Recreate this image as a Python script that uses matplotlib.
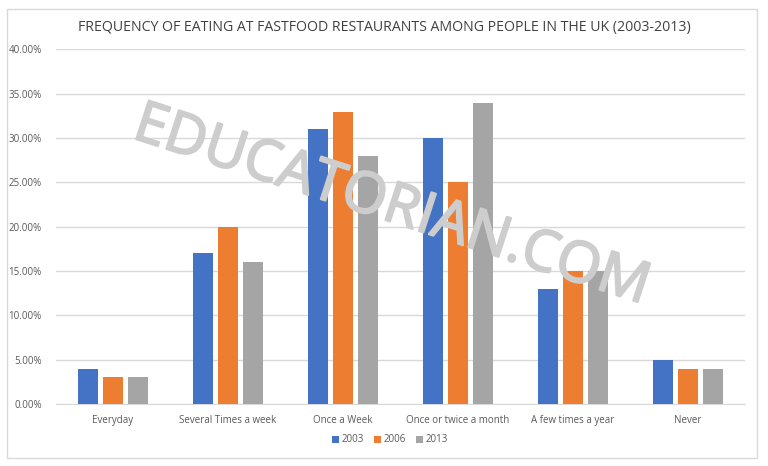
import matplotlib.pyplot as plt
import matplotlib.patheffects as pe
from matplotlib.patches import Rectangle
from matplotlib.ticker import FuncFormatter
import numpy as np

categories = ['Everyday', 'Several Times a week', 'Once a Week',
              'Once or twice a month', 'A few times a year', 'Never']
years = ['2003', '2006', '2013']
v2003 = [4, 17, 31, 30, 13, 5]
v2006 = [3, 20, 33, 25, 15, 4]
v2013 = [3, 16, 28, 34, 15, 4]
colors = ['#4472C4', '#ED7D31', '#A5A5A5']

plt.rcParams['font.family'] = ['Open Sans', 'DejaVu Sans']

fig = plt.figure(figsize=(7.68, 4.66), dpi=100)
fig.patches.append(Rectangle((7 / 768, 1 - 458 / 466), 750 / 768, 449 / 466,
                             transform=fig.transFigure, fill=False,
                             edgecolor='#D9D9D9', linewidth=1))

ax = fig.add_axes([0.0723, 0.1330, 0.8984, 0.7608])
x = np.arange(len(categories))
w = 0.17
step = 0.217
for i, (vals, c, yr) in enumerate(zip([v2003, v2006, v2013], colors, years)):
    ax.bar(x + (i - 1) * step, vals, width=w, color=c, label=yr, zorder=3)

ax.set_xlim(-0.5, len(categories) - 0.5)
ax.set_ylim(0, 40)
ax.set_yticks(np.arange(0, 41, 5))
ax.yaxis.set_major_formatter(FuncFormatter(lambda v, p: f'{v:.2f}%'))
ax.grid(axis='y', color='#D9D9D9', linewidth=1, zorder=0)
for s in ['top', 'right', 'left']:
    ax.spines[s].set_visible(False)
ax.spines['bottom'].set_color('#D9D9D9')
ax.set_xticks(x)
ax.set_xticklabels(categories)
ax.tick_params(axis='both', length=0, labelsize=7, labelcolor='#595959')
ax.tick_params(axis='x', pad=8)
ax.tick_params(axis='y', pad=10)

fig.text(0.5, 1 - 27 / 466, 'FREQUENCY OF EATING AT FASTFOOD RESTAURANTS AMONG PEOPLE IN THE UK (2003-2013)',
         ha='center', va='center', fontsize=10.2, color='#404040')

fig.legend(loc='center', bbox_to_anchor=(0.508, 1 - 440 / 466), ncol=3,
           frameon=False, fontsize=7, labelcolor='#595959',
           handlelength=0.7, handleheight=0.7, handletextpad=0.3,
           columnspacing=1.0)

fig.text(392 / 768, 1 - 207 / 466, 'EDUCATORIAN.COM', ha='center', va='center',
         rotation=-18, fontsize=41, color='#CDCDCD', zorder=10,
         path_effects=[pe.withStroke(linewidth=1.5, foreground='#CDCDCD')])

fig.savefig('out.png', dpi=100)
